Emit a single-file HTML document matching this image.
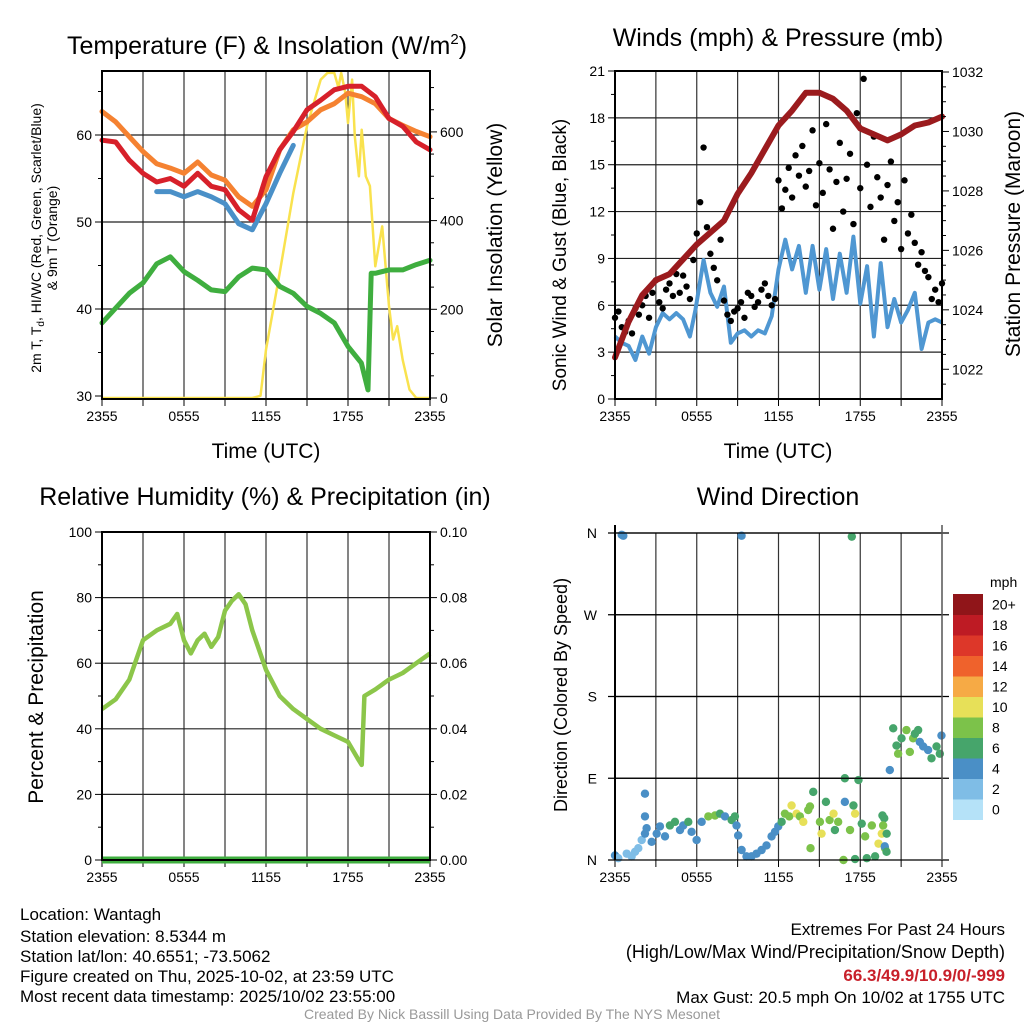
<!DOCTYPE html>
<html><head><meta charset="utf-8"><style>
body{margin:0;background:#fff;}
svg{display:block;font-family:"Liberation Sans",Arial,sans-serif;}
</style></head><body>
<svg id="chart" width="1024" height="1024" viewBox="0 0 1024 1024">
<rect width="1024" height="1024" fill="#fff"/>
<g id="layer"></g>
<text x="267" y="54" font-size="25" text-anchor="middle">Temperature (F) &amp; Insolation (W/m<tspan font-size="15" dy="-10">2</tspan><tspan dy="10">)</tspan></text>
<text x="778" y="46" font-size="25" text-anchor="middle">Winds (mph) &amp; Pressure (mb)</text>
<text x="265" y="505" font-size="25" text-anchor="middle">Relative Humidity (%) &amp; Precipitation (in)</text>
<text x="778" y="505" font-size="25" text-anchor="middle">Wind Direction</text>
<text x="266" y="458" font-size="21" text-anchor="middle">Time (UTC)</text>
<text x="778" y="458" font-size="21" text-anchor="middle">Time (UTC)</text>
<text transform="translate(41,238) rotate(-90)" font-size="14" text-anchor="middle">2m T, T<tspan font-size="10" dy="3">d</tspan><tspan dy="-3">, HI/WC (Red, Green, Scarlet/Blue)</tspan></text>
<text transform="translate(57,238) rotate(-90)" font-size="14" text-anchor="middle">&amp; 9m T (Orange)</text>
<text transform="translate(502,235) rotate(-90)" font-size="21" text-anchor="middle">Solar Insolation (Yellow)</text>
<text transform="translate(566,255) rotate(-90)" font-size="19" text-anchor="middle">Sonic Wind &amp; Gust (Blue, Black)</text>
<text transform="translate(1020,234) rotate(-90)" font-size="21" text-anchor="middle">Station Pressure (Maroon)</text>
<text transform="translate(43,697) rotate(-90)" font-size="21" text-anchor="middle">Percent &amp; Precipitation</text>
<text transform="translate(567,695) rotate(-90)" font-size="18" text-anchor="middle">Direction (Colored By Speed)</text>
<text x="990" y="587" font-size="14">mph</text>
<g font-size="17">
<text x="20" y="920">Location: Wantagh</text>
<text x="20" y="942">Station elevation: 8.5344 m</text>
<text x="20" y="962">Station lat/lon: 40.6551; -73.5062</text>
<text x="20" y="982">Figure created on Thu, 2025-10-02, at 23:59 UTC</text>
<text x="20" y="1002">Most recent data timestamp: 2025/10/02 23:55:00</text>
</g>
<g font-size="18" text-anchor="end">
<text x="1005" y="935" font-size="17">Extremes For Past 24 Hours</text>
<text x="1005" y="958">(High/Low/Max Wind/Precipitation/Snow Depth)</text>
<text x="1005" y="981" font-size="17" fill="#c8202a" font-weight="bold">66.3/49.9/10.9/0/-999</text>
<text x="1005" y="1003" font-size="17">Max Gust: 20.5 mph On 10/02 at 1755 UTC</text>
</g>
<text x="512" y="1019" font-size="14" fill="#999" text-anchor="middle">Created By Nick Bassill Using Data Provided By The NYS Mesonet</text>
</svg>
<script>
// ---- Panel 1 data ----
const hours = [0,1,2,3,4,5,6,7,8,9,10,11,12,13,14,15,16,17,18,19,20,21,22,23,24];
const temp2m = [59.4,59.2,57.1,55.6,54.6,55.0,54.1,55.6,54.1,53.7,51.4,50.2,55.2,58.3,60.4,62.9,64.0,65.2,65.6,65.6,64.4,61.9,61.0,59.2,58.3];
const temp9m = [62.7,61.5,59.8,58.1,56.7,56.2,55.6,56.9,55.4,54.8,52.9,51.8,53.7,58.3,60.6,61.5,62.9,63.6,64.8,64.4,63.6,61.9,61.1,60.4,59.8];
const hiwc = [null,null,null,null,53.5,53.5,52.9,53.5,52.9,52.1,49.8,49.1,52.1,55.6,58.8,null,null,null,null,null,null,null,null,null,null];
const dewTimes = [0,1,2,3,4,5,6,7,8,9,10,11,12,13,14,15,16,17,18,18.97,19.46,19.7,20,21,22,23,24];
const dewpoint = [38.4,40.1,41.8,43.0,45.2,46.0,44.3,43.3,42.2,42.0,43.7,44.7,44.5,42.6,41.8,40.3,39.5,38.4,35.7,33.8,30.7,44.1,44.1,44.5,44.5,45.1,45.6];
const solarTimes = [0,11,11.6,12,13,14,15,16,16.5,17,17.3,17.5,17.8,18,18.3,18.5,18.8,19,19.3,19.6,20,20.5,21,21.3,21.6,22,22.5,23,24];
const solar = [0,0,5,109,282,462,613,718,733,733,700,733,688,620,718,590,500,605,500,478,297,387,207,132,162,86,19,0,0];
// ---- Panel 2 data ----
const windTimes = [0,0.5,1,1.5,2,2.5,3,3.5,4,4.5,5,5.5,5.9,6.5,7,7.5,8,8.5,9,9.5,10,10.5,11,11.5,12,12.5,13,13.5,14,14.5,15,15.5,16,16.5,17,17.5,18,18.5,19,19.5,20,20.5,21,21.5,22,22.5,23,23.5,24];
const windSpeed = [4.0,3.6,3.4,2.5,4.0,2.9,4.6,5.5,5.1,5.5,5.1,4.0,5.7,8.9,6.8,5.9,7.2,3.6,4.2,4.4,4.0,4.4,4.2,5.3,8.3,10.2,8.3,9.8,6.8,9.8,7.0,9.6,6.4,9.3,6.8,10.4,6.1,8.5,4.0,8.7,4.6,6.4,4.9,5.7,6.8,3.2,4.9,5.1,4.9];
const gusts = [5.2,5.6,4.6,4.3,5.0,4.2,5.8,5.4,6.0,6.6,5.2,6.8,7.6,6.2,5.8,7.0,7.4,6.6,8.0,6.8,7.9,7.2,6.4,8.9,10.6,12.6,16.1,11.0,9.3,8.4,7.6,10.2,6.3,5.4,5.0,5.6,5.8,6.2,5.2,6.8,6.6,5.9,6.2,7.0,7.4,6.6,6.0,6.4,14.0,12.2,13.4,14.8,12.9,15.6,14.3,16.2,13.6,14.6,17.2,12.4,15.1,13.2,17.6,14.7,10.9,13.9,16.4,12.0,14.1,15.7,11.2,18.3,13.5,20.5,15.0,12.3,16.8,14.2,12.9,10.2,13.7,15.2,11.4,12.6,9.6,14.0,10.6,11.8,10.0,8.6,9.4,8.2,7.8,6.4,7.0,6.2,7.4];
const pressTimes = hours;
const pressure = [1022.4,1023.6,1024.5,1025.0,1025.2,1025.7,1026.2,1026.6,1027.0,1027.9,1028.6,1029.4,1030.2,1030.7,1031.3,1031.3,1031.1,1030.7,1030.1,1029.9,1029.7,1029.9,1030.2,1030.3,1030.5];
// ---- Panel 3 data ----
const rhTimes = [0,1,2,3,4,5,5.5,6,6.5,7,7.5,8,8.5,9,9.5,10,10.5,11,12,13,14,15,16,17,18,18.7,19,19.2,20,21,22,23,24];
const rh = [46,49,55,67,70,72,75,67,63,67,69,65,68,76,79,81,78,70,58,50,46,43,40,38,36,31,29,50,52,55,57,60,63];
const precip = [0,0];
const precipTimes = [0,24];
// ---- Panel 4 data ----
const dirTimes = [0,0.24,0.49,0.61,0.86,1.22,1.47,1.71,1.96,2.2,2.2,2.2,2.32,2.69,3.06,3.3,3.67,4.03,4.4,4.77,5.01,5.38,5.62,5.99,6.36,6.85,7.34,7.7,8.07,8.56,8.8,8.92,9.04,9.29,9.29,9.65,10.02,10.39,10.76,11.12,11.49,11.74,11.98,12.23,12.47,12.79,12.96,13.33,13.57,13.82,14.18,14.31,14.55,15.04,15.16,15.48,15.75,16.04,16.14,16.38,16.87,16.87,17.25,17.38,17.5,17.62,17.87,18.11,18.36,18.85,19.09,19.34,19.58,19.76,19.82,19.94,16.77,17.62,18.48,14.35,19.63,19.68,19.8,19.93,20.17,20.42,20.66,20.78,21.03,21.39,21.64,21.88,22.01,22.25,22.37,22.62,22.98,23.23,23.6,23.96,23.84];
const directions = [5,2,358,357,7,4,9,13,22,29,48,73,35,20,29,37,26,38,42,33,38,42,31,22,42,48,49,51,48,44,48,38,27,11,357,4,4,7,11,16,26,31,37,42,51,48,60,51,48,42,55,59,75,42,29,64,44,51,33,42,64,90,33,356,60,51,88,40,26,38,4,18,29,46,13,29,0,1,2,13,49,38,15,9,99,145,126,117,134,143,119,134,139,143,130,125,121,112,125,137,117];
const dirSpeeds = [4,2,4,4,2,2,2,2,2,4,4,4,4,4,4,4,4,6,6,4,4,6,4,4,4,8,8,6,4,6,6,4,4,4,4,4,4,4,4,4,4,4,4,6,8,8,10,10,8,10,8,8,6,8,10,6,8,10,6,8,4,6,8,6,6,10,6,6,8,8,6,10,10,6,8,6,8,6,6,8,6,8,4,6,4,6,6,8,6,8,8,8,6,6,4,4,4,6,6,4,6];
const speedLevels = ['0','2','4','6','8','10','12','14','16','18','20+'];
const speedColors = ['#b5e2f8','#7fbde6','#4a8fc6','#46a56b','#7cc24a','#e7e058','#f6aa45','#ef622c','#dd3729','#be1b24','#901519'];

const NS='http://www.w3.org/2000/svg';
const layer=document.getElementById('layer');
function el(tag,attrs,parent){const e=document.createElementNS(NS,tag);for(const k in attrs)e.setAttribute(k,attrs[k]);(parent||layer).appendChild(e);return e;}
function lin(d0,d1,r0,r1){return v=>r0+(v-d0)*(r1-r0)/(d1-d0);}
function pathFrom(xs,ys,fx,fy){let d='',pen=false;for(let i=0;i<xs.length;i++){if(ys[i]===null){pen=false;continue;}d+=(pen?'L':'M')+fx(xs[i]).toFixed(1)+','+fy(ys[i]).toFixed(1);pen=true;}return d;}
const xTickLabels=['2355','0555','1155','1755','2355'];

function frame(L,T,R,B,name,hlines){
  const g=el('g',{});
  
  
  const fx=lin(0,24,L,R);
  for(let h=3;h<24;h+=3){const l=el('line',{x1:fx(h),x2:fx(h),y1:T,y2:B,stroke:'#333','stroke-width':1.2},g);
    
    }
  hlines.forEach(y=>{const l=el('line',{x1:L,x2:R,y1:y,y2:y,stroke:'#222','stroke-width':1.2},g);
    
    });
  for(let h=0;h<=24;h+=3){el('line',{x1:fx(h),x2:fx(h),y1:B,y2:B+7,stroke:'#000','stroke-width':1},g);}
  for(let i=0;i<5;i++){const t=el('text',{x:fx(i*6),y:B+22,'font-size':14,'text-anchor':'middle'},g);t.textContent=xTickLabels[i];
    
    }
  return g;
}
function border(L,T,R,B){const r=el('rect',{x:L,y:T,width:R-L,height:B-T,fill:'none',stroke:'#000','stroke-width':2});
  
  }
function yTicks(vals,fy,x,side,labels,minorVals){
  vals.forEach((v,i)=>{const y=fy(v);el('line',{x1:x,x2:x+(side<0?-7:7),y1:y,y2:y,stroke:'#000'});
    const t=el('text',{x:x+(side<0?-10:10),y:y+5,'font-size':14,'text-anchor':side<0?'end':'start'});t.textContent=labels[i];
    
    });
  (minorVals||[]).forEach(v=>{const y=fy(v);el('line',{x1:x,x2:x+(side<0?-4:4),y1:y,y2:y,stroke:'#000'});});
}

// ===== Panel 1 =====
(function(){
  const L=102,T=71,R=430,B=399;
  const fx=lin(0,24,L,R), fy=lin(30,40,396,309), fs=lin(0,200,398,309.3);
  frame(L,T,R,B,'temperature',[fy(40),fy(50),fy(60)]);
  const ys=el('path',{d:pathFrom(solarTimes,solar,fx,fs),fill:'none',stroke:'#f9e24e','stroke-width':2.5,'stroke-linejoin':'round'});
  
  
  const series=[[hours,temp9m,'#f58231','9m-temperature-line'],[dewTimes,dewpoint,'#3fae3f','dewpoint-line'],[hours,hiwc,'#4a90c8','heat-index-line'],[hours,temp2m,'#d7202a','2m-temperature-line']];
  series.forEach(s=>{const p=el('path',{d:pathFrom(s[0],s[1],fx,fy),fill:'none',stroke:s[2],'stroke-width':5,'stroke-linejoin':'round','stroke-linecap':'round'});
    
    });
  border(L,T,R,B);
  yTicks([30,40,50,60],fy,L,-1,['30','40','50','60'],[35,45,55,65]);
  yTicks([0,200,400,600],fs,R,1,['0','200','400','600'],[50,100,150,250,300,350,450,500,550,650,700]);
})();

// ===== Panel 2 =====
(function(){
  const L=615,T=71,R=942,B=399;
  const fx=lin(0,24,L,R), fy=lin(0,21,B,T), fp=lin(1021,1032,B,72);
  const hl=[];for(let v=3;v<21;v+=3)hl.push(fy(v));
  frame(L,T,R,B,'winds',hl);
  const ws=el('path',{d:pathFrom(windTimes,windSpeed,fx,fy),fill:'none',stroke:'#4f97d2','stroke-width':4,'stroke-linejoin':'round'});
  
  
  gusts.forEach((g,i)=>{const t=i*24/(gusts.length-1);const c=el('circle',{cx:fx(t),cy:fy(g),r:3.2,fill:'#000'});
    
    });
  const pr=el('path',{d:pathFrom(pressTimes,pressure,fx,fp),fill:'none',stroke:'#9b1b1e','stroke-width':6,'stroke-linejoin':'round','stroke-linecap':'round'});
  
  
  border(L,T,R,B);
  const v=[0,3,6,9,12,15,18,21];yTicks(v,fy,L,-1,v.map(String),[1.5,4.5,7.5,10.5,13.5,16.5,19.5]);
  const pv=[1022,1024,1026,1028,1030,1032];yTicks(pv,fp,R,1,pv.map(String),[1021.5,1022.5,1023,1023.5,1024.5,1025,1025.5,1026.5,1027,1027.5,1028.5,1029,1029.5,1030.5,1031,1031.5]);
})();

// ===== Panel 3 =====
(function(){
  const L=102,T=532,R=430,B=860;
  const fx=lin(0,24,L,R), fy=lin(0,100,B,T), fp=lin(0,0.1,B,T);
  frame(L,T,R,B,'humidity',[fy(20),fy(40),fy(60),fy(80)]);
  const p=el('path',{d:pathFrom(rhTimes,rh,fx,fy),fill:'none',stroke:'#8cc64a','stroke-width':4.5,'stroke-linejoin':'round'});
  
  
  const q=el('path',{d:pathFrom(precipTimes,precip,fx,fp),fill:'none',stroke:'#3fae3f','stroke-width':7});
  
  
  border(L,T,R,B);
  const v=[0,20,40,60,80,100];yTicks(v,fy,L,-1,v.map(String),[10,30,50,70,90]);
  const pv=[0,0.02,0.04,0.06,0.08,0.1];yTicks(pv,fp,R,1,pv.map(x=>x.toFixed(2)),[0.01,0.03,0.05,0.07,0.09]);
})();

// ===== Panel 4 =====
(function(){
  const L=615,T=533,R=942,B=860;
  const fx=lin(0,24,L,R), fy=lin(0,360,B,T);
  frame(L,T,R,B,'wind-direction',[fy(90),fy(180),fy(270),fy(360)]);
  dirTimes.forEach((t,i)=>{const c=el('circle',{cx:fx(t),cy:fy(directions[i]),r:4.2,fill:speedColors[Math.min(10,Math.round(dirSpeeds[i]/2))]});
    
    });
  const lab=['N','E','S','W','N'];
  [0,90,180,270,360].forEach((d,i)=>{const y=fy(d);el('line',{x1:L-7,x2:R+7,y1:y,y2:y,stroke:'#000','stroke-width':1.2});
    const t=el('text',{x:L-18,y:y+5,'font-size':14,'text-anchor':'end'});t.textContent=lab[i];
    
    });
  el('line',{x1:L,x2:L,y1:T-8,y2:B,stroke:'#000','stroke-width':2});
  el('line',{x1:R,x2:R,y1:T-8,y2:B,stroke:'#555','stroke-width':1.5});
  const cbTop=594,h=20.5;
  for(let i=0;i<11;i++){const y=cbTop+(10-i)*h;
    const r=el('rect',{x:953,y:y,width:30,height:h+0.5,fill:speedColors[i]});
    
    
    const t=el('text',{x:992,y:y+h/2+5,'font-size':14});t.textContent=speedLevels[i];
    
    }
})();
</script>
</body></html>
